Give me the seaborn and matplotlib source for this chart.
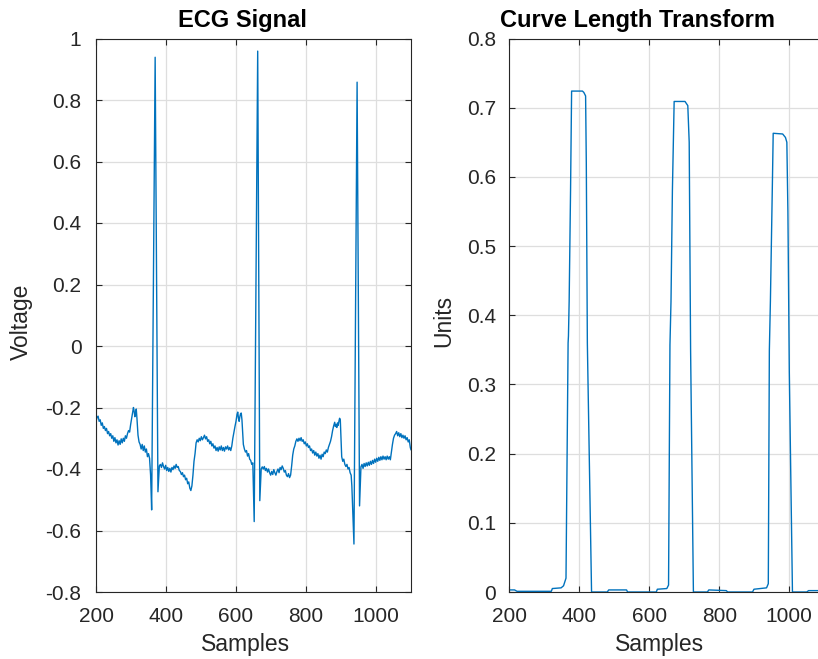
import numpy as np
import pandas as pd
import matplotlib
matplotlib.use("Agg")
import matplotlib.pyplot as plt
from matplotlib.ticker import FuncFormatter
import seaborn as sns

# ---------------- data ----------------
ecg_samples = [
    200, 203, 206, 209, 212, 215, 218, 221, 224, 227, 230, 233, 236, 239, 242, 245, 248, 251, 254, 257,
    260, 263, 266, 269, 272, 275, 278, 281, 284, 287, 290, 293, 296, 299, 302, 305, 307, 309, 311, 313,
    315, 317, 320, 323, 326, 329, 332, 335, 338, 341, 344, 347, 350, 353, 356, 359, 369, 377, 381, 384,
    387, 390, 393, 396, 399, 402, 405, 408, 411, 414, 417, 420, 423, 426, 429, 432, 435, 438, 441, 444,
    447, 450, 453, 456, 459, 462, 465, 468, 471, 474, 477, 480, 483, 486, 489, 492, 495, 498, 501, 504,
    507, 510, 513, 516, 519, 522, 525, 528, 531, 534, 537, 540, 543, 546, 549, 552, 555, 558, 561, 564,
    567, 570, 573, 576, 579, 582, 585, 588, 591, 594, 597, 600, 603, 605, 607, 609, 611, 613, 615, 617,
    619, 621, 624, 627, 630, 633, 636, 639, 642, 645, 648, 652, 662, 668, 672, 675, 678, 681, 684, 687,
    690, 693, 696, 699, 702, 705, 708, 711, 714, 717, 720, 723, 726, 729, 732, 735, 738, 741, 744, 747,
    750, 753, 756, 759, 762, 765, 768, 771, 774, 777, 780, 783, 786, 789, 792, 795, 798, 801, 804, 807,
    810, 813, 816, 819, 822, 825, 828, 831, 834, 837, 840, 843, 846, 849, 852, 855, 858, 861, 864, 867,
    870, 873, 876, 879, 882, 884, 886, 888, 890, 892, 894, 896, 898, 900, 902, 905, 908, 911, 914, 917,
    920, 923, 926, 929, 931, 937, 946, 953, 957, 960, 963, 966, 969, 972, 975, 978, 981, 984, 987, 990,
    993, 996, 999, 1002, 1005, 1008, 1011, 1014, 1017, 1020, 1023, 1026, 1029, 1032, 1035, 1038, 1041, 1044, 1047, 1050,
    1053, 1056, 1059, 1062, 1065, 1068, 1071, 1074, 1077, 1080, 1083, 1086, 1089, 1092, 1095, 1098, 1100,
]
ecg_voltage = [
    -0.245, -0.232, -0.228, -0.245, -0.240, -0.258, -0.250, -0.268, -0.262, -0.275, -0.268, -0.285, -0.278, -0.292, -0.285, -0.300, -0.292, -0.310, -0.298, -0.315,
    -0.305, -0.322, -0.308, -0.320, -0.302, -0.315, -0.300, -0.310, -0.292, -0.300, -0.285, -0.275, -0.280, -0.255, -0.235, -0.215, -0.200, -0.212, -0.230, -0.222,
    -0.205, -0.235, -0.290, -0.312, -0.320, -0.335, -0.320, -0.340, -0.325, -0.345, -0.335, -0.360, -0.350, -0.365, -0.420, -0.533, 0.939, -0.474, -0.390, -0.385,
    -0.395, -0.380, -0.392, -0.400, -0.388, -0.405, -0.395, -0.408, -0.398, -0.410, -0.395, -0.402, -0.390, -0.398, -0.385, -0.395, -0.392, -0.405, -0.408, -0.418,
    -0.412, -0.425, -0.420, -0.435, -0.430, -0.448, -0.442, -0.462, -0.470, -0.455, -0.420, -0.375, -0.350, -0.315, -0.305, -0.312, -0.300, -0.308, -0.295, -0.305,
    -0.298, -0.290, -0.302, -0.295, -0.310, -0.305, -0.318, -0.310, -0.325, -0.318, -0.332, -0.325, -0.340, -0.330, -0.342, -0.328, -0.338, -0.325, -0.340, -0.330,
    -0.342, -0.328, -0.335, -0.325, -0.338, -0.330, -0.340, -0.325, -0.300, -0.280, -0.262, -0.245, -0.222, -0.215, -0.235, -0.245, -0.230, -0.220, -0.218, -0.240,
    -0.280, -0.320, -0.335, -0.345, -0.340, -0.358, -0.350, -0.368, -0.372, -0.385, -0.380, -0.571, 0.959, -0.503, -0.400, -0.393, -0.400, -0.392, -0.405, -0.398,
    -0.410, -0.400, -0.412, -0.420, -0.408, -0.418, -0.402, -0.412, -0.420, -0.408, -0.400, -0.412, -0.395, -0.402, -0.390, -0.398, -0.410, -0.405, -0.420, -0.425,
    -0.415, -0.428, -0.420, -0.390, -0.355, -0.335, -0.325, -0.310, -0.302, -0.310, -0.300, -0.308, -0.298, -0.310, -0.305, -0.318, -0.312, -0.325, -0.318, -0.330,
    -0.325, -0.340, -0.335, -0.348, -0.340, -0.355, -0.345, -0.358, -0.350, -0.365, -0.355, -0.368, -0.352, -0.360, -0.345, -0.350, -0.338, -0.345, -0.330, -0.320,
    -0.310, -0.295, -0.275, -0.260, -0.248, -0.262, -0.255, -0.265, -0.250, -0.258, -0.245, -0.235, -0.240, -0.300, -0.360, -0.375, -0.368, -0.385, -0.392, -0.385,
    -0.400, -0.395, -0.412, -0.420, -0.455, -0.644, 0.858, -0.520, -0.393, -0.385, -0.398, -0.382, -0.392, -0.380, -0.390, -0.378, -0.388, -0.375, -0.385, -0.372,
    -0.382, -0.368, -0.378, -0.365, -0.375, -0.362, -0.372, -0.360, -0.370, -0.358, -0.368, -0.360, -0.370, -0.358, -0.368, -0.360, -0.370, -0.345, -0.320, -0.300,
    -0.290, -0.285, -0.278, -0.292, -0.282, -0.295, -0.285, -0.298, -0.290, -0.300, -0.292, -0.305, -0.298, -0.312, -0.305, -0.330, -0.338,
]

clt_samples = [
    200, 215, 222, 320, 323, 348, 355, 362, 368, 369, 371, 375, 378, 409, 413, 418, 420, 423, 435,
    480, 484, 535, 538, 620, 623, 650, 655, 659, 662, 666, 671, 702, 710, 714, 718, 726,
    766, 770, 820, 824, 895, 899, 935, 940, 943, 946, 952, 954, 981, 989, 993, 996, 1000, 1009,
    1050, 1055, 1100,
]
clt_units = [
    0.003, 0.003, 0.001, 0.001, 0.005, 0.006, 0.009, 0.020, 0.360, 0.370, 0.420, 0.580, 0.724, 0.724, 0.722, 0.717, 0.620, 0.360, 0.000,
    0.000, 0.003, 0.003, 0.000, 0.000, 0.004, 0.005, 0.010, 0.357, 0.420, 0.580, 0.709, 0.709, 0.703, 0.650, 0.349, 0.000,
    0.000, 0.003, 0.002, 0.000, 0.000, 0.004, 0.006, 0.012, 0.349, 0.420, 0.600, 0.663, 0.662, 0.657, 0.650, 0.550, 0.318, 0.000,
    0.000, 0.002, 0.002,
]

x_ticks = [200, 400, 600, 800, 1000]
ecg_yticks = [-0.8, -0.6, -0.4, -0.2, 0, 0.2, 0.4, 0.6, 0.8, 1]
clt_yticks = [0, 0.1, 0.2, 0.3, 0.4, 0.5, 0.6, 0.7, 0.8]

titles = ["ECG Signal", "Curve Length Transform"]
ylabels = ["Voltage", "Units"]
xlabel = "Samples"

# ---------------- style ----------------
sns.set_style("ticks")
plt.rcParams["font.family"] = ["Liberation Sans", "DejaVu Sans"]

LINE = "#0072BD"
AXC = "#262626"

fig = plt.figure(figsize=(8.18, 6.59), dpi=100)
W, H = 818, 659
AX_TOP, AX_BOT = 38.5, 592.0
bottom = 1 - AX_BOT / H
height = (AX_BOT - AX_TOP) / H
ax1 = fig.add_axes([96.0 / W, bottom, 315 / W, height])
ax2 = fig.add_axes([509.3 / W, bottom, 315 / W, height])

ecg_df = pd.DataFrame({"Samples": ecg_samples, "Voltage": ecg_voltage})
clt_df = pd.DataFrame({"Samples": clt_samples, "Units": clt_units})

sns.lineplot(data=ecg_df, x="Samples", y="Voltage", ax=ax1, color=LINE, linewidth=1.0, sort=False)
sns.lineplot(data=clt_df, x="Samples", y="Units", ax=ax2, color=LINE, linewidth=1.0, sort=False)


def fmt(v, pos):
    s = ("%.1f" % v).rstrip("0").rstrip(".")
    if s in ("-0", ""):
        s = "0"
    return s


# per-panel text placement (pixels in the figure)
title_cx = [242.5, 637.5]
xlabel_cx = [245.5, 660.0]
ylabel_right = [33.0, 455.0]
ylabel_cy = [322.0, 321.0]

for i, (ax, yt) in enumerate([(ax1, ecg_yticks), (ax2, clt_yticks)]):
    ax.set_xlim(200, 1100)
    ax.set_ylim(yt[0], yt[-1])
    ax.set_xticks(x_ticks)
    ax.set_yticks(yt)
    ax.yaxis.set_major_formatter(FuncFormatter(fmt))
    ax.grid(True, color="#dedede", linewidth=0.9)
    ax.set_axisbelow(True)
    for sp in ax.spines.values():
        sp.set_visible(True)
        sp.set_color(AXC)
        sp.set_linewidth(0.8)
    ax.tick_params(direction="in", length=4, width=0.8, color=AXC,
                   top=True, right=True, labelsize=15, labelcolor=AXC)
    ax.tick_params(axis="x", pad=11)
    ax.tick_params(axis="y", pad=9.5 if i == 1 else 10.5)

    ax0 = ax.get_position()
    axl, axw = ax0.x0 * W, ax0.width * W
    fig.text(title_cx[i] / W, 1 - 26.7 / H, titles[i], ha="center", va="baseline",
             fontsize=17, fontweight="bold", color="black")
    ax.set_xlabel(xlabel, fontsize=16.5, color=AXC)
    ax.xaxis.set_label_coords((xlabel_cx[i] - axl) / axw, (AX_BOT - 633.5) / (AX_BOT - AX_TOP))
    ax.set_ylabel(ylabels[i], fontsize=16.5, color=AXC)
    ax.yaxis.set_label_coords((ylabel_right[i] - axl) / axw, (AX_BOT - ylabel_cy[i]) / (AX_BOT - AX_TOP))

fig.savefig("out.png", dpi=100)
